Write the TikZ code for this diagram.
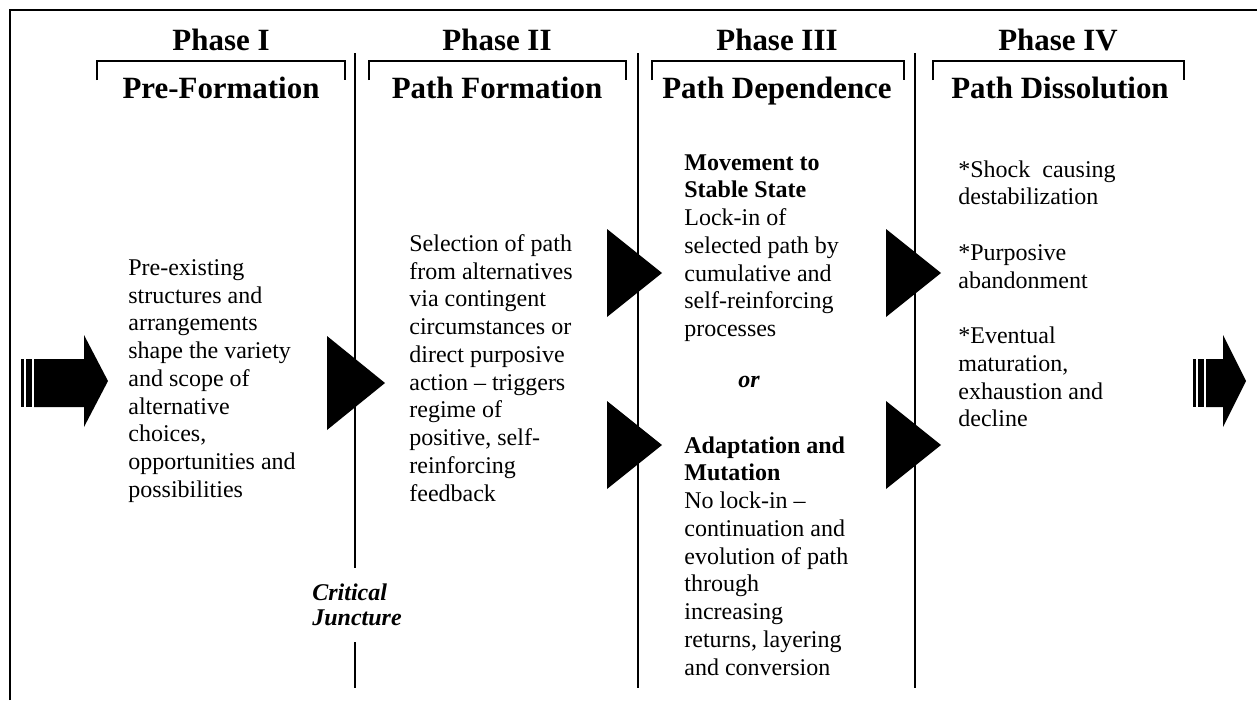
\documentclass[tikz,border=0pt]{standalone}
\usepackage{fontspec}
\setmainfont{Liberation Serif}
\usetikzlibrary{positioning}

\tikzset{
  phasehead/.style={font=\fontsize{17.6}{20}\selectfont\bfseries, inner sep=0pt, anchor=base},
  bodytext/.style={font=\fontsize{13.66}{15.8}\selectfont, align=left, anchor=north west, inner sep=0pt},
  divider/.style={line width=1.1pt},
  bracket/.style={line width=0.6pt},
  frame/.style={line width=1.7pt},
}

\begin{document}
\begin{tikzpicture}[x=0.02cm, y=-0.02cm]
    \useasboundingbox (0, 0) rectangle (1257, 700);
    % outer frame (only left and top edges show)
    \draw [frame] (10, 700) -- (10, 10) -- (1257, 10);

    % phase headings
    \node (ph1) at (221, 50) [phasehead] {Phase I};
    \node (ph2) at (497, 50) [phasehead] {Phase II};
    \node (ph3) at (777, 50) [phasehead] {Phase III};
    \node (ph4) at (1058, 50) [phasehead] {Phase IV};
    \node (t1) at (221, 98) [phasehead] {Pre-Formation};
    \node (t2) at (497, 98) [phasehead] {Path Formation};
    \node (t3) at (777, 98) [phasehead] {Path Dependence};
    \node (t4) at (1060, 98) [phasehead] {Path Dissolution};

    % brackets
    \draw [bracket] (97, 80) -- (97, 61) -- (345, 61) -- (345, 80);
    \draw [bracket] (369, 80) -- (369, 61) -- (626, 61) -- (626, 80);
    \draw [bracket] (652, 80) -- (652, 61) -- (904, 61) -- (904, 80);
    \draw [bracket] (933, 80) -- (933, 61) -- (1184, 61) -- (1184, 80);

    % dividers
    \coordinate (d1a) at (355, 53);
    \coordinate (d1b) at (355, 568);
    \coordinate (d1c) at (355, 642);
    \coordinate (d1d) at (355, 688);
    \draw [divider] (d1a) -- (d1b);
    \draw [divider] (d1c) -- (d1d);
    \draw [divider] (638, 53) -- (638, 688);
    \draw [divider] (915, 53) -- (915, 688);

    \node (cj) at (312, 583) [bodytext, font=\fontsize{13.66}{14.3}\selectfont\bfseries\itshape] {Critical\\Juncture};

    % column texts
    \node (b1) at (128, 259) [bodytext] {Pre-existing\\structures and\\arrangements\\shape the variety\\and scope of\\alternative\\choices,\\opportunities and\\possibilities};
    \node (b2) at (409, 234) [bodytext] {Selection of path\\from alternatives\\via contingent\\circumstances or\\direct purposive\\action -- triggers\\regime of\\positive, self-\\reinforcing\\feedback};
    \node (b3a) at (684, 154) [bodytext] {\textbf{Movement to}\\\textbf{Stable State}\\Lock-in of\\selected path by\\cumulative and\\self-reinforcing\\processes};
    \node (or) at (749, 382) [font=\fontsize{13.66}{15.8}\selectfont\bfseries\itshape, inner sep=0pt] {or};
    \node (b3b) at (684, 436) [bodytext] {\textbf{Adaptation and}\\\textbf{Mutation}\\No lock-in --\\continuation and\\evolution of path\\through\\increasing\\returns, layering\\and conversion};
    \node (b4) at (958, 160) [bodytext] {*Shock\ \ causing\\destabilization\\[15.8pt]*Purposive\\abandonment\\[15.8pt]*Eventual\\maturation,\\exhaustion and\\decline};

    % triangles between phases
    \fill (327, 336) -- (385, 383) -- (327, 430) -- cycle;
    \fill (607, 229) -- (662, 273) -- (607, 317) -- cycle;
    \fill (607, 401) -- (662, 445) -- (607, 489) -- cycle;
    \fill (886, 229) -- (941, 273) -- (886, 317) -- cycle;
    \fill (886, 401) -- (941, 445) -- (886, 489) -- cycle;

    % entry and exit arrows
    \fill (21, 359) rectangle (24, 407);
    \fill (26, 359) rectangle (32, 407);
    \fill (34, 359) -- (84, 359) -- (84, 335) -- (108, 381) -- (84, 427) -- (84, 407) -- (34, 407) -- cycle;
    \fill (1193, 359) rectangle (1196, 407);
    \fill (1198, 359) rectangle (1204, 407);
    \fill (1206, 359) -- (1223, 359) -- (1223, 335) -- (1246, 381) -- (1223, 427) -- (1223, 407) -- (1206, 407) -- cycle;
\end{tikzpicture}
\end{document}
